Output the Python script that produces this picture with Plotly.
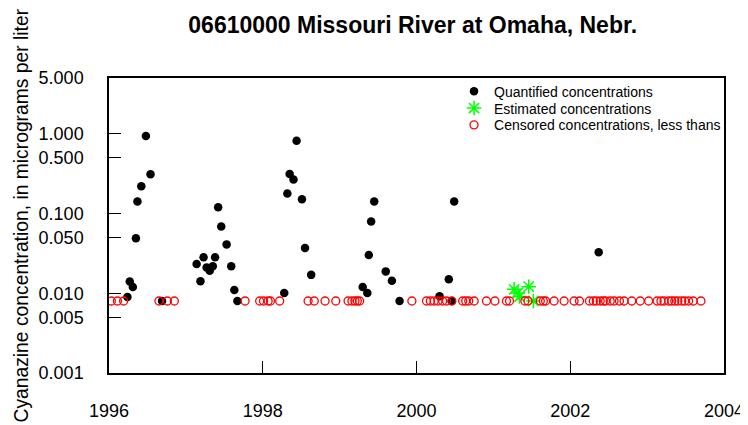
import plotly.graph_objects as go

# Quantified concentrations (decimal year, micrograms per liter)
quant_year = [1996.24, 1996.27, 1996.31, 1996.35, 1996.37, 1996.42, 1996.48, 1996.54, 1996.69,
              1997.14, 1997.19, 1997.23, 1997.27, 1997.31, 1997.35, 1997.38, 1997.42, 1997.46,
              1997.53, 1997.59, 1997.63, 1997.67,
              1998.28, 1998.32, 1998.35, 1998.40, 1998.44, 1998.51, 1998.55, 1998.63,
              1999.30, 1999.36, 1999.38, 1999.41, 1999.45, 1999.60, 1999.68, 1999.78,
              2000.30, 2000.42, 2000.46, 2000.49, 2002.37]
quant_conc = [0.009, 0.014, 0.012, 0.049, 0.141, 0.22, 0.94, 0.31, 0.008,
              0.0233, 0.0141, 0.0282, 0.0211, 0.0191, 0.0218, 0.0282, 0.120, 0.0688,
              0.041, 0.0218, 0.011, 0.008,
              0.0101, 0.178, 0.313, 0.266, 0.818, 0.151, 0.0369, 0.017,
              0.012, 0.0101, 0.0302, 0.0794, 0.141, 0.0188, 0.0143, 0.008,
              0.00915, 0.015, 0.008, 0.141, 0.0326]

# Estimated concentrations
est_year = [2001.27, 2001.32, 2001.34, 2001.46, 2001.52]
est_conc = [0.0112, 0.0101, 0.0091, 0.0121, 0.008]

# Censored concentrations (less thans)
cens_year = [1996.03, 1996.11, 1996.19, 1996.65, 1996.76, 1996.85, 1997.77, 1997.96, 1998.01,
             1998.07, 1998.10, 1998.22, 1998.59, 1998.67, 1998.81, 1998.95, 1999.11, 1999.16,
             1999.20, 1999.23, 1999.26, 1999.94, 2000.13, 2000.18, 2000.23, 2000.28, 2000.34,
             2000.39, 2000.46, 2000.60, 2000.64, 2000.68, 2000.75, 2000.91, 2001.02, 2001.17,
             2001.21, 2001.41, 2001.45, 2001.61, 2001.65, 2001.68, 2001.79, 2001.92, 2002.05,
             2002.12, 2002.25, 2002.30, 2002.34, 2002.39, 2002.43, 2002.46, 2002.52, 2002.57,
             2002.64, 2002.70, 2002.80, 2002.91, 2003.02, 2003.13, 2003.18, 2003.22, 2003.28,
             2003.32, 2003.36, 2003.40, 2003.45, 2003.49, 2003.54, 2003.60, 2003.70]
cens_conc = [0.008] * len(cens_year)

y_tickvals = [0.001, 0.005, 0.01, 0.05, 0.1, 0.5, 1, 5]
y_ticktext = ["0.001", "0.005", "0.010", "0.050", "0.100", "0.500", "1.000", "5.000"]
x_tickvals = [1996, 1998, 2000, 2002, 2004]
x_ticktext = ["1996", "1998", "2000", "2002", "2004"]

FONT = "Liberation Sans, Arial, Helvetica, sans-serif"

fig = go.Figure()
fig.add_trace(go.Scatter(x=quant_year, y=quant_conc, mode="markers",
                         name="Quantified concentrations", legend="legend",
                         marker=dict(symbol="circle", size=8.5, color="black")))
fig.add_trace(go.Scatter(x=est_year, y=est_conc, mode="markers",
                         name="Estimated concentrations", legend="legend2",
                         marker=dict(symbol="asterisk-open", size=12, color="#00ff00",
                                     line=dict(width=1.5, color="#00ff00"))))
fig.add_trace(go.Scatter(x=cens_year, y=cens_conc, mode="markers",
                         name="Censored concentrations, less thans", legend="legend3",
                         marker=dict(symbol="circle-open", size=8, color="red",
                                     line=dict(width=1.3, color="red"))))

leg_common = dict(x=0.561, xanchor="left", yanchor="top",
                  font=dict(size=14, family=FONT), bgcolor="rgba(0,0,0,0)",
                  itemsizing="trace")

fig.update_layout(
    width=748, height=425,
    margin=dict(l=101, r=25, t=70, b=59),
    paper_bgcolor="white", plot_bgcolor="white",
    font=dict(family=FONT, color="black", size=18),
    showlegend=True,
    legend=dict(y=1.008, **leg_common),
    legend2=dict(y=0.951, **leg_common),
    legend3=dict(y=0.894, **leg_common),
    title=dict(text="<b>06610000 Missouri River at Omaha, Nebr.</b>",
               x=0.541, xanchor="center", y=0.96, yanchor="middle",
               font=dict(size=23, family=FONT)),
    annotations=[dict(text="Cyanazine concentration, in micrograms per liter",
                      xref="paper", yref="paper", x=-0.1425, y=0.535,
                      xanchor="center", yanchor="middle", textangle=-90,
                      showarrow=False, font=dict(size=19.3, family=FONT))],
)
fig.update_xaxes(range=[1996, 2004], tickvals=x_tickvals, ticktext=x_ticktext,
                 ticks="inside", ticklen=12, tickwidth=1.2, tickcolor="black",
                 showline=True, linecolor="black", linewidth=1.5, mirror=True,
                 showgrid=False, zeroline=False, ticklabelstandoff=21,
                 tickfont=dict(size=18))
fig.update_yaxes(type="log", range=[-3, 0.69897], tickvals=y_tickvals, ticktext=y_ticktext,
                 ticks="inside", ticklen=12, tickwidth=1.2, tickcolor="black",
                 showline=True, linecolor="black", linewidth=1.5, mirror=True,
                 showgrid=False, zeroline=False, ticklabelstandoff=20,
                 tickfont=dict(size=18))

fig.write_html("out.html")
